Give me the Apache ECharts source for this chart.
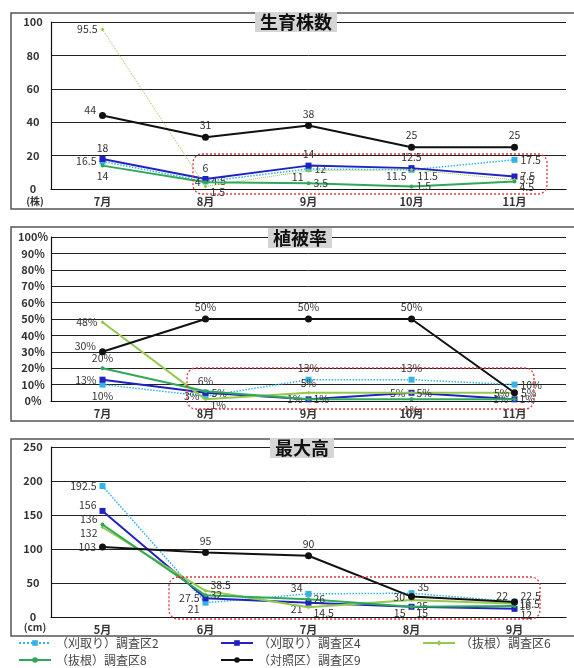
<!DOCTYPE html>
<html>
<head>
<meta charset="utf-8">
<script src="https://cdn.jsdelivr.net/npm/echarts@6/dist/echarts.min.js"></script>
<style>
  html, body { margin: 0; padding: 0; background: #fff; }
  #chart { width: 574px; height: 668px; }
</style>
</head>
<body>
<div id="chart"></div>
<script>
// Survey plots
const plotNames = ['（刈取り）調査区2', '（刈取り）調査区4', '（抜根）調査区6', '（抜根）調査区8', '（対照区）調査区9'];

// 生育株数 (株), Jul–Nov
const countMonths = ['7月', '8月', '9月', '10月', '11月'];
const countCut2  = [16.5, 4.5, 12, 11.5, 17.5];
const countCut4  = [18, 6, 14, 12.5, 7.5];
const countRoot6 = [95.5, 1.5, 11, 11.5, 5.5];
const countRoot8 = [14, 4, 3.5, 1.5, 4.5];
const countCtrl9 = [44, 31, 38, 25, 25];

// 植被率 (%), Jul–Nov
const coverMonths = ['7月', '8月', '9月', '10月', '11月'];
const coverCut2  = [10, 3, 13, 13, 10];
const coverCut4  = [13, 5, 1, 5, 1];
const coverRoot6 = [48, 1, 5, 5, 5];
const coverRoot8 = [20, 6, 1, 1, 1];
const coverCtrl9 = [30, 50, 50, 50, 5];

// 最大高 (cm), May–Sep
const heightMonths = ['5月', '6月', '7月', '8月', '9月'];
const heightCut2  = [192.5, 21, 34, 35, 22.5];
const heightCut4  = [156, 27.5, 21, 15, 12];
const heightRoot6 = [132, 38.5, 14.5, 25, 19.5];
const heightRoot8 = [136, 32, 26, 15, 16];
const heightCtrl9 = [103, 95, 90, 30, 22];

// label placement per point
const countPos = [
  ['left', 'right', 'right', 'rb', 'right'],
  ['top', 'top', 'top', 'top', 'right'],
  ['left', 'rb', 'lb', 'lb', 'right'],
  ['bottom', 'left', 'right', 'right', 'rb'],
  ['lt', 'top', 'top', 'top', 'top']
];
const coverPos = [
  ['bottom', 'left', 'top', 'top', 'right'],
  ['left', 'right', 'left', 'left', 'left'],
  ['left', 'rb', 'top', 'right', 'left'],
  ['top', 'top', 'right', 'bottom', 'right'],
  ['lt', 'top', 'top', 'top', 'right']
];
const heightPos = [
  ['left', 'lb', 'lt', 'rt', 'rt'],
  ['lt', 'left', 'lb', 'lb', 'rb'],
  ['lb', 'rt', 'rb', 'rb', 'right'],
  ['lt', 'right', 'right', 'rb', 'right'],
  ['left', 'top', 'top', 'left', 'lt']
];

const FONT = '"Noto Sans CJK JP", "Noto Sans", sans-serif';
const OFF = {
  top: ['top', [0, 0]], bottom: ['bottom', [0, 0]],
  left: ['left', [0, 0]], right: ['right', [0, 0]],
  lt: ['left', [0, -6]], lb: ['left', [0, 6]],
  rt: ['right', [0, -6]], rb: ['right', [0, 6]]
};

const looks = [
  { color: '#33b3e6', line: { type: 'dotted', width: 1.5 }, symbol: 'rect', size: 6 },
  { color: '#2222c4', line: { type: 'solid', width: 2 }, symbol: 'rect', size: 6 },
  { color: '#95c94e', line: { type: 'solid', width: 2 }, symbol: 'diamond', size: 4 },
  { color: '#2fa957', line: { type: 'solid', width: 2 }, symbol: 'circle', size: 4 },
  { color: '#111111', line: { type: 'solid', width: 2 }, symbol: 'circle', size: 7 }
];

function makeSeries(grid, idx, values, codes, suffix, lineOverride) {
  const lk = looks[idx];
  return {
    type: 'line',
    name: plotNames[idx],
    xAxisIndex: grid,
    yAxisIndex: grid,
    symbol: lk.symbol,
    symbolSize: lk.size,
    showAllSymbol: true,
    itemStyle: { color: lk.color },
    lineStyle: Object.assign({ color: lk.color }, lk.line, lineOverride || {}),
    z: 2 + idx,
    label: {
      show: true,
      distance: 3,
      fontSize: 10.5,
      color: '#333',
      fontFamily: FONT,
      formatter: p => p.value + suffix
    },
    data: values.map((v, i) => ({
      value: v,
      label: { position: OFF[codes[i]][0], offset: OFF[codes[i]][1] }
    }))
  };
}

const heightSets = [heightCut2, heightCut4, heightRoot6, heightRoot8, heightCtrl9];
const coverSets = [coverCut2, coverCut4, coverRoot6, coverRoot8, coverCtrl9];
const countSets = [countCut2, countCut4, countRoot6, countRoot8, countCtrl9];

const series = [];
heightSets.forEach((d, i) => series.push(makeSeries(2, i, d, heightPos[i], '')));
coverSets.forEach((d, i) => series.push(makeSeries(1, i, d, coverPos[i], '%')));
countSets.forEach((d, i) => series.push(makeSeries(0, i, d, countPos[i], '',
  i === 2 ? { type: 'dotted', width: 1 } : null)));

function xAxisFor(grid, months) {
  return {
    type: 'category', gridIndex: grid, data: months, boundaryGap: true,
    axisLine: { lineStyle: { color: '#111', width: 1.2 } },
    axisTick: { alignWithLabel: true, length: 3, lineStyle: { color: '#111' } },
    axisLabel: { margin: 7, fontSize: 11, fontWeight: 'bold', color: '#333', fontFamily: FONT }
  };
}
function yAxisFor(grid, max, interval, suffix) {
  return {
    type: 'value', gridIndex: grid, min: 0, max: max, interval: interval,
    axisLine: { show: true, lineStyle: { color: '#111', width: 1.2 } },
    axisTick: { show: false },
    splitLine: { lineStyle: { color: '#222', width: 1 } },
    axisLabel: {
      align: 'center', margin: 18, fontSize: 11, fontWeight: 'bold', color: '#333',
      fontFamily: FONT, formatter: v => v + suffix
    }
  };
}

function titleText(x, y, text) {
  return {
    type: 'text', x: x, y: y, z: 100,
    style: {
      text: text, font: 'bold 18px ' + FONT, fill: '#111',
      align: 'center', verticalAlign: 'middle',
      backgroundColor: '#d5d5d5', padding: [1, 5]
    }
  };
}
function frame(y, h) {
  return { type: 'rect', z: -1, shape: { x: 11, y: y, width: 600, height: h },
    style: { fill: 'none', stroke: '#555', lineWidth: 1.5 } };
}
function redBox(x, y, w, h) {
  return { type: 'rect', z: 50, shape: { x: x, y: y, width: w, height: h, r: 9 },
    style: { fill: 'none', stroke: '#d8383f', lineWidth: 1.3, lineDash: [2, 2] } };
}
function unitText(x, y, text) {
  return { type: 'text', x: x, y: y, z: 100,
    style: { text: text, font: 'bold 10px ' + FONT, fill: '#333', align: 'center', verticalAlign: 'middle' } };
}

const legendRows = [[18, 637], [220, 637], [422, 637], [18, 654], [220, 654]];

const option = {
  animation: false,
  backgroundColor: '#fff',
  grid: [
    { left: 51, right: 8, top: 22, height: 167 },
    { left: 51, right: 8, top: 237, height: 164 },
    { left: 51, right: 8, top: 447, height: 170 }
  ],
  xAxis: [xAxisFor(0, countMonths), xAxisFor(1, coverMonths), xAxisFor(2, heightMonths)],
  yAxis: [yAxisFor(0, 100, 20, ''), yAxisFor(1, 100, 10, '%'), yAxisFor(2, 250, 50, '')],
  legend: plotNames.map((n, i) => ({
    data: [n], left: legendRows[i][0], top: legendRows[i][1], padding: 0,
    itemWidth: 32, itemHeight: 7, selectedMode: false,
    textStyle: { fontSize: 12, color: '#444', fontFamily: FONT }
  })),
  graphic: [
    frame(13, 196), frame(227, 194), frame(439, 197),
    redBox(193, 154, 354, 40), redBox(187, 368, 347, 41), redBox(169, 577, 371, 42),
    titleText(296, 22, '生育株数'), titleText(300, 238, '植被率'), titleText(302, 448, '最大高'),
    unitText(35, 201, '(株)'), unitText(35, 627, '(cm)')
  ],
  series: series
};

const chart = echarts.init(document.getElementById('chart'), null, { renderer: 'canvas' });
chart.setOption(option);
</script>
</body>
</html>
